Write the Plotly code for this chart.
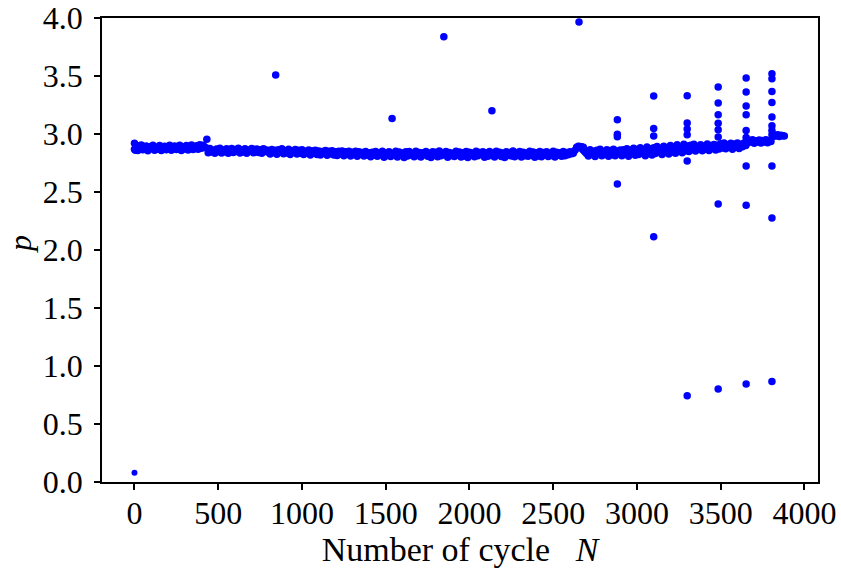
import plotly.graph_objects as go

# Main band of measurements: cycle number N (every 10 cycles) and value p
band_n = list(range(0, 3881, 10))
band_p = [
    # 0 - 430
    2.868, 2.902, 2.858, 2.885, 2.906, 2.864, 2.880, 2.897, 2.856, 2.890,
    2.874, 2.902, 2.860, 2.886, 2.869, 2.900, 2.858, 2.880, 2.894, 2.864,
    2.886, 2.902, 2.860, 2.878, 2.897, 2.866, 2.884, 2.902, 2.858, 2.891,
    2.871, 2.900, 2.863, 2.885, 2.905, 2.866, 2.882, 2.898, 2.868, 2.907,
    2.878, 2.902, 2.885, 2.880,
    # 440 - 800
    2.838, 2.874, 2.844, 2.860, 2.833, 2.870, 2.849, 2.877, 2.836, 2.863,
    2.847, 2.872, 2.834, 2.858, 2.876, 2.840, 2.866, 2.850, 2.878, 2.836,
    2.860, 2.844, 2.872, 2.833, 2.863, 2.852, 2.875, 2.838, 2.858, 2.870,
    2.840, 2.865, 2.834, 2.872, 2.850, 2.861, 2.843,
    # 810 - 1400
    2.828, 2.867, 2.840, 2.859, 2.826, 2.864, 2.844, 2.872, 2.830, 2.856,
    2.836, 2.868, 2.824, 2.853, 2.843, 2.866, 2.828, 2.859, 2.834, 2.864,
    2.823, 2.851, 2.839, 2.862, 2.820, 2.856, 2.833, 2.860, 2.824, 2.853,
    2.818, 2.849, 2.835, 2.858, 2.816, 2.851, 2.829, 2.856, 2.820, 2.847,
    2.814, 2.852, 2.827, 2.854, 2.813, 2.846, 2.831, 2.852, 2.810, 2.843,
    2.823, 2.852, 2.808, 2.848, 2.825, 2.841, 2.810, 2.850, 2.819, 2.839,
    # 1410 - 2610
    2.803, 2.842, 2.817, 2.850, 2.808, 2.836, 2.821, 2.852, 2.800, 2.839,
    2.814, 2.847, 2.806, 2.831, 2.825, 2.852, 2.802, 2.844, 2.817, 2.837,
    2.798, 2.847, 2.811, 2.850, 2.819, 2.835, 2.804, 2.852, 2.815, 2.841,
    2.801, 2.839, 2.823, 2.850, 2.808, 2.833, 2.798, 2.848, 2.817, 2.843,
    2.804, 2.854, 2.813, 2.837, 2.821, 2.850, 2.800, 2.841, 2.815, 2.835,
    2.806, 2.852, 2.819, 2.845, 2.802, 2.839, 2.811, 2.850, 2.798, 2.843,
    2.817, 2.837, 2.804, 2.852, 2.813, 2.841, 2.823, 2.848, 2.800, 2.839,
    2.808, 2.850, 2.815, 2.835, 2.802, 2.852, 2.819, 2.843, 2.806, 2.837,
    2.798, 2.848, 2.815, 2.841, 2.811, 2.854, 2.804, 2.839, 2.821, 2.850,
    2.802, 2.843, 2.813, 2.837, 2.808, 2.852, 2.817, 2.845, 2.800, 2.839,
    2.811, 2.850, 2.804, 2.841, 2.819, 2.848, 2.806, 2.837, 2.815, 2.852,
    2.802, 2.843, 2.817, 2.839, 2.808, 2.850, 2.813, 2.841, 2.821, 2.848,
    2.830,
    # 2620 - 2700
    2.835, 2.860, 2.885, 2.895, 2.880, 2.890, 2.860, 2.845, 2.830,
    # 2710 - 2900
    2.810, 2.864, 2.825, 2.852, 2.806, 2.860, 2.835, 2.868, 2.813, 2.846,
    2.828, 2.864, 2.808, 2.857, 2.822, 2.868, 2.813, 2.852, 2.832, 2.862,
    # 2910 - 3300
    2.813, 2.864, 2.830, 2.872, 2.808, 2.857, 2.840, 2.877, 2.816, 2.867,
    2.824, 2.882, 2.835, 2.862, 2.813, 2.887, 2.840, 2.872, 2.820, 2.882,
    2.831, 2.892, 2.845, 2.870, 2.823, 2.894, 2.850, 2.877, 2.828, 2.900,
    2.842, 2.887, 2.833, 2.907, 2.852, 2.882, 2.838, 2.912, 2.855, 2.897,
    # 3310 - 3480
    2.850, 2.902, 2.865, 2.912, 2.853, 2.892, 2.872, 2.907, 2.856, 2.897,
    2.868, 2.914, 2.858, 2.900, 2.875, 2.910, 2.863, 2.902,
    # 3490 - 3650
    2.870, 2.917, 2.880, 2.922, 2.873, 2.907, 2.890, 2.920, 2.868, 2.914,
    2.885, 2.922, 2.876, 2.912, 2.890, 2.922, 2.900,
    # 3660 - 3800
    2.923, 2.947, 2.930, 2.950, 2.920, 2.942, 2.932, 2.948, 2.923, 2.944,
    2.930, 2.950, 2.924, 2.942, 2.935,
    # 3810 - 3880
    2.976, 2.992, 2.982, 2.994, 2.978, 2.990, 2.984, 2.982,
]

# Scattered points away from the band
out_n = [0, 5, 432, 843, 1538, 1847, 2134, 2654, 2660, 2680,
         2883, 2883, 2883, 2883,
         3100, 3100, 3100, 3100,
         3300, 3300, 3300, 3300, 3300, 3300,
         3485, 3485, 3485, 3485, 3485, 3485, 3485, 3485,
         3652, 3652, 3652, 3652, 3652, 3652, 3652, 3652, 3652,
         3806, 3806, 3806, 3806, 3806, 3806, 3806, 3806, 3806, 3806, 3806]
out_p = [2.920, 2.860, 2.955, 3.508, 3.134, 3.839, 3.200, 3.966, 2.893, 2.885,
         3.123, 2.997, 2.977, 2.569,
         3.327, 3.048, 2.983, 2.115,
         3.330, 3.095, 3.043, 2.994, 2.767, 0.744,
         3.405, 3.267, 3.166, 3.092, 3.037, 2.974, 2.397, 0.802,
         3.483, 3.362, 3.241, 3.166, 3.031, 2.970, 2.724, 2.385, 0.845,
         3.520, 3.477, 3.367, 3.272, 3.147, 3.072, 3.031, 2.994, 2.724, 2.276, 0.867]

# Initial low point
first_n = [0]
first_p = [0.08]

x_ticks = [0, 500, 1000, 1500, 2000, 2500, 3000, 3500, 4000]
y_ticks = [0.0, 0.5, 1.0, 1.5, 2.0, 2.5, 3.0, 3.5, 4.0]

BLUE = "#0000ff"
FONT = "Liberation Serif"

fig = go.Figure()
fig.add_trace(go.Scatter(x=band_n, y=band_p, mode="markers",
                         marker=dict(color=BLUE, size=7.5, line=dict(width=0)),
                         showlegend=False, hoverinfo="x+y"))
fig.add_trace(go.Scatter(x=out_n, y=out_p, mode="markers",
                         marker=dict(color=BLUE, size=7.5, line=dict(width=0)),
                         showlegend=False, hoverinfo="x+y"))
fig.add_trace(go.Scatter(x=first_n, y=first_p, mode="markers",
                         marker=dict(color=BLUE, size=6, line=dict(width=0)),
                         showlegend=False, hoverinfo="x+y"))

axis_common = dict(
    showgrid=False, zeroline=False, showline=True, linecolor="black",
    linewidth=1.5, mirror=True, ticks="outside", ticklen=6, tickwidth=1.5,
    tickcolor="black", tickfont=dict(family=FONT, size=32, color="black"),
    automargin=False, ticklabeloverflow="allow",
)

fig.update_layout(
    width=841, height=573,
    margin=dict(l=102, r=23, t=18, b=91),
    paper_bgcolor="white", plot_bgcolor="white",
    font=dict(family=FONT, size=32, color="black"),
    xaxis=dict(range=[-194, 4081], tickvals=x_ticks,
               ticktext=[str(v) for v in x_ticks],
               ticklabelstandoff=-4,
               title=dict(text="Number of cycle\u00a0\u00a0\u00a0<i>N</i>",
                          font=dict(family=FONT, size=34), standoff=2),
               **axis_common),
    yaxis=dict(range=[0, 4], tickvals=y_ticks,
               ticktext=[f"{v:.1f}" for v in y_ticks],
               ticklabelstandoff=5,
               **axis_common),
    annotations=[dict(text="<i>p</i>", textangle=-90, showarrow=False,
                      xref="paper", yref="paper", x=0, y=0.5,
                      xanchor="center", yanchor="middle",
                      xshift=-82, yshift=6,
                      font=dict(family=FONT, size=32, color="black"))],
)

# remove the default page margin so the figure sits at the window's corner
fig.write_html("out.html",
               config={"displayModeBar": False},
               post_script="document.body.style.margin='0';")
